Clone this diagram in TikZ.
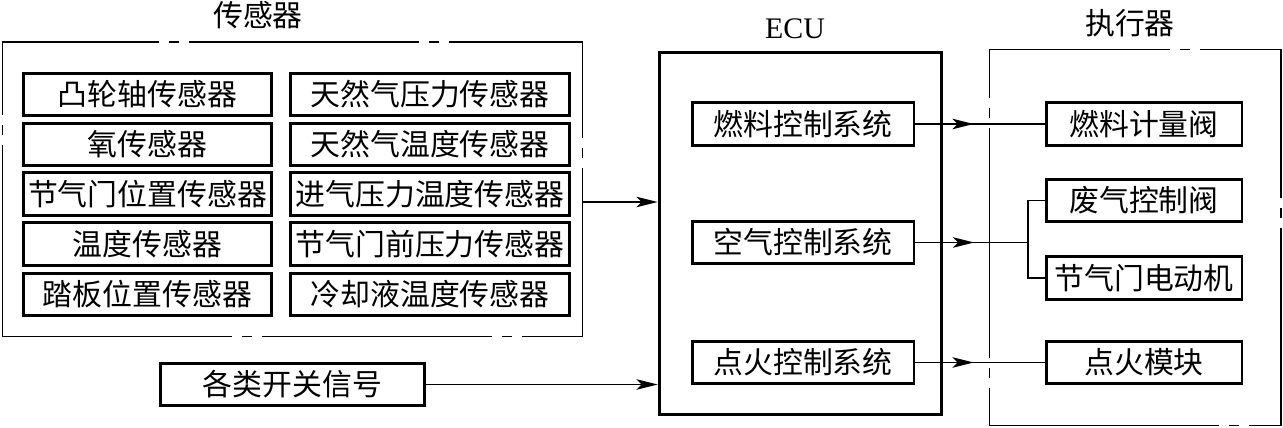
\documentclass[tikz,border=0pt]{standalone}
\usepackage{fontspec}
\usepackage{tikz}
\usetikzlibrary{arrows.meta,decorations.markings}
\newfontfamily\cjk{Noto Sans CJK SC}
\newfontfamily\ecufont{Liberation Serif}

\begin{document}
\begin{tikzpicture}[x=0.02cm, y=-0.02cm,
                    every node/.style={font=\cjk\fontsize{17}{19}\selectfont, inner sep=1pt},
                    item/.style={rectangle, draw, line width=1.7pt, minimum height=0.85cm},
                    group/.style={rectangle, draw, line width=0.6pt,
                                  dash pattern=on 4.6cm off 0.2cm on 0.2cm off 0.2cm},
                    link/.style={line width=0.8pt},
                    tip/.style={-{Stealth[length=12pt,width=6pt,inset=3pt]}},
                    midtip/.style={postaction={decorate}, decoration={markings,
                                   mark=at position #1 with {\arrow{Stealth[length=12pt,width=6pt,inset=3pt]}}}}]

\useasboundingbox (0,0) rectangle (1283,428);

% Sensor group
\node[group, minimum width=11.62cm, minimum height=5.9cm] (sensors) at (292.5,189.5) {};
\node (sensorstitle) at (258,15) {传感器};

\node[item, minimum width=4.98cm] (cam) at (147.5,94.5) {凸轮轴传感器};
\node[item, minimum width=4.98cm] (oxygen) at (147.5,144.5) {氧传感器};
\node[item, minimum width=4.98cm] (tps) at (147.5,194) {节气门位置传感器};
\node[item, minimum width=4.98cm] (temp) at (147.5,244) {温度传感器};
\node[item, minimum width=4.98cm] (pedal) at (147.5,294.5) {踏板位置传感器};

\node[item, minimum width=5.6cm] (gaspress) at (430,94.5) {天然气压力传感器};
\node[item, minimum width=5.6cm] (gastemp) at (430,144.5) {天然气温度传感器};
\node[item, minimum width=5.6cm] (intake) at (430,194) {进气压力温度传感器};
\node[item, minimum width=5.6cm] (prethrottle) at (430,244) {节气门前压力传感器};
\node[item, minimum width=5.6cm] (coolant) at (430,294.5) {冷却液温度传感器};

\node[item, minimum width=5.3cm] (switch) at (292.5,384.5) {各类开关信号};

% ECU
\node[item, minimum width=5.66cm, minimum height=7.26cm] (ecu) at (800.5,233.5) {};
\node[font=\ecufont\fontsize{17}{19}\selectfont] (ecutitle) at (795,29) {ECU};

\node[item, minimum width=4.44cm] (fuelsys) at (803,124) {燃料控制系统};
\node[item, minimum width=4.44cm] (airsys) at (803,242.5) {空气控制系统};
\node[item, minimum width=4.44cm] (ignsys) at (803,362.5) {点火控制系统};

% Actuator group
\node[group, minimum width=5.84cm, minimum height=7.54cm] (actuators) at (1135,237.5) {};
\node (actuatorstitle) at (1130,23) {执行器};

\node[item, minimum width=3.92cm] (fuelvalve) at (1144,124) {燃料计量阀};
\node[item, minimum width=3.92cm] (wastevalve) at (1144,200.5) {废气控制阀};
\node[item, minimum width=3.92cm] (throttle) at (1144,278) {节气门电动机};
\node[item, minimum width=3.92cm] (ignmodule) at (1144,362.5) {点火模块};

% Connections
\coordinate (sensorsout) at (583,202);
\coordinate (split) at (1028,242.5);

\draw[link, tip] (sensorsout) -- (sensorsout -| ecu.west);
\draw[link, tip] (switch) -- (switch -| ecu.west);

\draw[link, midtip=0.45] (fuelsys) -- (fuelvalve);
\draw[link, midtip=0.52] (airsys) -- (split);
\draw[link] (wastevalve) -| (split) |- (throttle);
\draw[link, midtip=0.45] (ignsys) -- (ignmodule);

\end{tikzpicture}
\end{document}
